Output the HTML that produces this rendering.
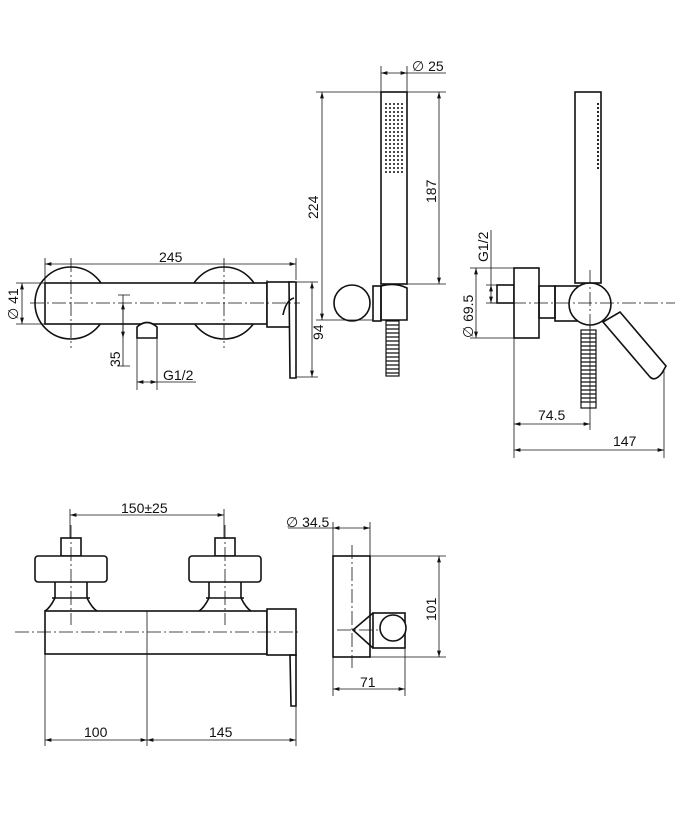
<!DOCTYPE html>
<html><head><meta charset="utf-8"><style>
html,body{margin:0;padding:0;background:#fff;}
svg{display:block;}
text{font-family:"Liberation Sans",sans-serif;font-size:14px;fill:#111;}
</style></head><body>
<svg width="697" height="829" viewBox="0 0 697 829" xmlns="http://www.w3.org/2000/svg">
<defs>
<marker id="a" viewBox="0 0 10 6" refX="10" refY="3" markerWidth="8" markerHeight="5" orient="auto-start-reverse"><path d="M0,0L10,3L0,6z" fill="#111"/></marker>
</defs>
<g stroke="#111" fill="none" stroke-width="1.6">
<!-- TOP LEFT mixer -->
<circle cx="71" cy="303" r="36"/>
<circle cx="224" cy="303" r="36"/>
<rect x="45" y="283" width="222" height="41" fill="#fff"/>
<path d="M137,338 L137,327 Q147,318 157,327 L157,338 Z" fill="#fff"/>
<rect x="267" y="282" width="27" height="45" fill="#fff"/>
<path d="M289,282 L296,282 L296,378 L290,378 Z" fill="#fff"/>
<path d="M283,315 Q286,300 294,298"/>
<!-- hand shower -->
<rect x="381" y="92" width="26" height="192" fill="#fff"/>
<rect x="373" y="286" width="8" height="35"/>
<path d="M381,286 Q395,282 407,288 L407,320 L381,320 Z"/>
<circle cx="352" cy="303" r="18" fill="#fff"/>
<!-- right side view -->
<rect x="575" y="92" width="26" height="191" fill="#fff"/>
<rect x="497" y="285" width="17" height="18"/>
<rect x="514" y="268" width="25" height="70" fill="#fff"/>
<rect x="539" y="286" width="16" height="32"/>
<rect x="555" y="286" width="30" height="35"/>
<path d="M603,322 L650,377 Q655,382 662,373 L666,366 L620,312 Z" fill="#fff"/>
<circle cx="590" cy="304" r="21" fill="#fff"/>
<!-- bottom front view -->
<rect x="61" y="538" width="20" height="18"/>
<rect x="35" y="556" width="72" height="26" rx="3" fill="#fff"/>
<path d="M55,582 L55,598 Q50,608 45,611 M87,582 L87,598 Q92,608 97,611"/>
<path d="M52,598 L90,598"/>
<rect x="215" y="538" width="20" height="18"/>
<rect x="189" y="556" width="72" height="26" rx="3" fill="#fff"/>
<path d="M209,582 L209,598 Q204,608 199,611 M241,582 L241,598 Q246,608 251,611"/>
<path d="M206,598 L244,598"/>
<rect x="45" y="611" width="222" height="43" fill="#fff"/>
<rect x="267" y="609" width="29" height="46" fill="#fff"/>
<path d="M290,655 L296,655 L296,706 L291,706 Z"/>
<!-- side view -->
<rect x="333" y="556" width="37" height="101" fill="#fff"/>
<rect x="373" y="613" width="32" height="35"/>
<path d="M373,613 L353,630 L373,648"/>
<circle cx="393" cy="628" r="13" fill="#fff"/>
</g>
<!-- hose patterns -->
<g stroke="#111" stroke-width="1.2">
<rect x="386" y="321" width="13" height="55" fill="none"/>
<path d="M386,325h13M386,329h13M386,333h13M386,337h13M386,341h13M386,345h13M386,349h13M386,353h13M386,357h13M386,361h13M386,365h13M386,369h13M386,373h13"/>
<rect x="581" y="330" width="15" height="78" fill="none"/>
<path d="M581,334h15M581,338h15M581,342h15M581,346h15M581,350h15M581,354h15M581,358h15M581,362h15M581,366h15M581,370h15M581,374h15M581,378h15M581,382h15M581,386h15M581,390h15M581,394h15M581,398h15M581,402h15"/>
</g>
<!-- nozzle dots -->
<g fill="#111">
<g id="row"><circle cx="386" cy="104" r="1"/><circle cx="390" cy="104" r="1"/><circle cx="394" cy="104" r="1"/><circle cx="398" cy="104" r="1"/><circle cx="402" cy="104" r="1"/></g>
<use href="#row" y="4"/><use href="#row" y="8"/><use href="#row" y="12"/><use href="#row" y="16"/><use href="#row" y="20"/><use href="#row" y="24"/><use href="#row" y="28"/><use href="#row" y="32"/><use href="#row" y="36"/><use href="#row" y="40"/><use href="#row" y="44"/><use href="#row" y="48"/><use href="#row" y="52"/><use href="#row" y="56"/><use href="#row" y="60"/><use href="#row" y="64"/><use href="#row" y="68"/>
<g id="d"><circle cx="598" cy="104" r="1.1"/></g>
<use href="#d" y="4"/><use href="#d" y="8"/><use href="#d" y="12"/><use href="#d" y="16"/><use href="#d" y="20"/><use href="#d" y="24"/><use href="#d" y="28"/><use href="#d" y="32"/><use href="#d" y="36"/><use href="#d" y="40"/><use href="#d" y="44"/><use href="#d" y="48"/><use href="#d" y="52"/><use href="#d" y="56"/><use href="#d" y="60"/><use href="#d" y="64"/>
</g>
<!-- center lines -->
<g stroke="#111" stroke-width="0.8" stroke-dasharray="14,3,2,3" fill="none">
<path d="M30,303H300M71,258V348M224,258V348"/>
<path d="M490,303H675M590,270V340"/>
<path d="M15,632H300M71,525V625M225,525V625"/>
<path d="M337,630H380M352,545V668"/>
</g>
<!-- dimension lines -->
<g stroke="#111" stroke-width="0.8" fill="none">
<path d="M45,290V258M296,280V258M267,283V280"/>
<path d="M45,264H296" marker-start="url(#a)" marker-end="url(#a)"/>
<path d="M16,283H45M16,324H45"/>
<path d="M22,283V324" marker-start="url(#a)" marker-end="url(#a)"/>
<path d="M118,295H130M118,366H130M123,295V366"/>
<path d="M123,303V338" marker-start="url(#a)" marker-end="url(#a)" />
<path d="M137,338V390M157,338V390M157,382H196"/>
<path d="M137,382H157" marker-start="url(#a)" marker-end="url(#a)"/>
<path d="M296,282H318M296,377H318"/>
<path d="M312,282V377" marker-start="url(#a)" marker-end="url(#a)"/>
<path d="M316,92H381M316,320H373"/>
<path d="M322,92V320" marker-start="url(#a)" marker-end="url(#a)"/>
<path d="M407,92H446M407,284H446"/>
<path d="M439,92V284" marker-start="url(#a)" marker-end="url(#a)"/>
<path d="M381,92V66M407,92V66M407,73H446"/>
<path d="M381,73H407" marker-start="url(#a)" marker-end="url(#a)"/>
<path d="M470,268H514M470,338H514"/>
<path d="M476,268V338" marker-start="url(#a)" marker-end="url(#a)"/>
<path d="M486,285H497M486,303H497M491,230V285"/>
<path d="M491,285V303" marker-start="url(#a)" marker-end="url(#a)"/>
<path d="M514,338V458M590,326V430M664,370V458"/>
<path d="M514,424H590" marker-start="url(#a)" marker-end="url(#a)"/>
<path d="M514,450H664" marker-start="url(#a)" marker-end="url(#a)"/>
<path d="M70,509V538M224,509V538"/>
<path d="M70,515H224" marker-start="url(#a)" marker-end="url(#a)"/>
<path d="M45,654V746M147,611V746M296,706V746"/>
<path d="M45,740H147" marker-start="url(#a)" marker-end="url(#a)"/>
<path d="M147,740H296" marker-start="url(#a)" marker-end="url(#a)"/>
<path d="M333,522V556M370,522V556M288,528H333"/>
<path d="M333,528H370" marker-start="url(#a)" marker-end="url(#a)"/>
<path d="M370,556H446M360,657H446"/>
<path d="M439,556V657" marker-start="url(#a)" marker-end="url(#a)"/>
<path d="M333,657V696M405,640V696"/>
<path d="M333,689H405" marker-start="url(#a)" marker-end="url(#a)"/>
</g>
<!-- labels -->
<text x="159" y="262">245</text>
<text transform="translate(18,320) rotate(-90)">∅ 41</text>
<text transform="translate(120,367) rotate(-90)">35</text>
<text x="163" y="380">G1/2</text>
<text transform="translate(323,340) rotate(-90)">94</text>
<text transform="translate(318,219) rotate(-90)">224</text>
<text transform="translate(436,203) rotate(-90)">187</text>
<text x="412" y="71">∅ 25</text>
<text transform="translate(488,262) rotate(-90)">G1/2</text>
<text transform="translate(473,338) rotate(-90)">∅ 69.5</text>
<text x="538" y="420">74.5</text>
<text x="613" y="446">147</text>
<text x="121" y="513">150±25</text>
<text x="84" y="737">100</text>
<text x="209" y="737">145</text>
<text x="286" y="527">∅ 34.5</text>
<text transform="translate(436,621) rotate(-90)">101</text>
<text x="360" y="687">71</text>
</svg>
</body></html>
